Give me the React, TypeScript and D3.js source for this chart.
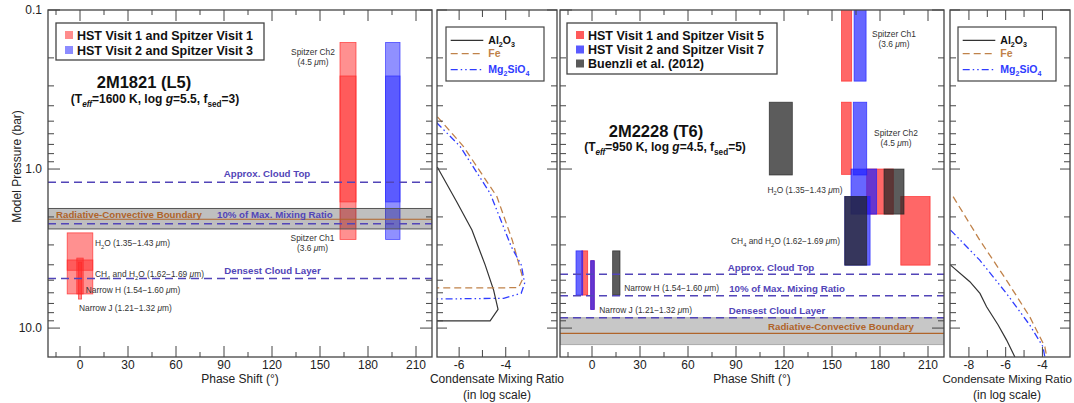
import React from 'react'
import * as d3 from 'd3'

// axis ticks
const phaseMajor = [0, 30, 60, 90, 120, 150, 180, 210]
const phaseMinor = [-15, 15, 45, 75, 105, 135, 165, 195]
const pressureMajor = [0.1, 1, 10]
const pressureLabels = ['0.1', '1.0', '10.0']
const pressureMinor = [0.2, 0.3, 0.4, 0.5, 0.6, 0.7, 0.8, 0.9, 2, 3, 4, 5, 6, 7, 8, 9]
const mixLTicks = [-6, -5, -4, -3]
const mixLLabels = [-6, -4]
const mixRTicks = [-8, -7, -6, -5, -4]
const mixRLabels = [-8, -6, -4]

// boxes: [phase from, phase to, pressure top, pressure bottom]
type Box = [number, number, number, number]
const l5Red: Box[] = [
  [162.5, 172.5, 0.16, 1.61], // Spitzer Ch2
  [162.5, 172.5, 0.26, 2.77], // Spitzer Ch1
  [-8, 8, 2.52, 4.33], // H2O
  [-8, 8, 3.73, 6.1], // CH4 + H2O
  [-2, 2, 3.63, 6.1], // narrow H
  [-1, 1, 3.85, 6.57], // narrow J
]
const l5Blue: Box[] = [
  [191, 200, 0.16, 1.61],
  [191, 200, 0.26, 2.77],
]
const t6Red: Box[] = [
  [156, 162.3, 0.05, 0.28],
  [156, 162, 0.38, 1.08],
  [171.7, 188.3, 1.0, 1.92],
  [193, 211.3, 1.49, 4.02],
  [-6.4, -2.7, 3.27, 6.2],
  [-0.8, 1.4, 3.77, 7.63],
]
const t6Blue: Box[] = [
  [163.8, 171.3, 0.05, 0.28],
  [163.3, 171.7, 0.38, 1.09],
  [161.9, 177.9, 1.0, 1.92],
  [158, 173.8, 1.49, 4.02],
  [-10, -5.8, 3.27, 6.2],
  [-0.8, 1.4, 3.77, 7.63],
]
const t6Buenzli: Box[] = [
  [110.8, 125.2, 0.38, 1.09],
  [182.5, 195, 1.0, 1.92],
  [158, 171.7, 1.49, 4.02],
  [12.9, 17.5, 3.27, 6.2],
]

// cloud levels (bar): approx cloud top, 10% of max mixing ratio, densest layer
const l5Dashed = [1.21, 2.21, 4.87]
const l5Rcb = 2.07
const l5Band = [1.77, 2.38]
const t6Dashed = [4.59, 6.26, 8.61]
const t6Rcb = 10.8
const t6Band = [8.61, 12.7]

// condensate profiles: [log mixing ratio, pressure]
type Pt = [number, number]
const l5Al2O3: Pt[] = [[-6.94, 0.97], [-6.1, 1.61], [-5.45, 2.42], [-4.88, 4.02], [-4.52, 5.77], [-4.33, 7.63], [-4.67, 9.0], [-7.3, 9.0]]
const l5Fe: Pt[] = [[-6.93, 0.47], [-5.82, 0.72], [-4.38, 1.49], [-3.72, 2.8], [-3.46, 3.85], [-3.26, 4.87], [-3.45, 5.56], [-4.0, 5.58], [-7.3, 5.58]]
const l5Mg: Pt[] = [[-6.97, 0.51], [-5.96, 0.72], [-4.67, 1.42], [-3.76, 3.08], [-3.33, 4.02], [-3.19, 5.23], [-3.34, 6.05], [-4.09, 6.5], [-7.3, 6.57]]
const t6Al2O3: Pt[] = [[-9.0, 4.02], [-7.95, 5.11], [-7.4, 6.05], [-7.04, 7.35], [-6.41, 9.57], [-5.95, 11.9], [-5.5, 15.2]]
const t6Fe: Pt[] = [[-8.86, 1.49], [-7.41, 2.8], [-5.96, 4.99], [-4.69, 8.49], [-3.87, 13.1], [-3.76, 15.2]]
const t6Mg: Pt[] = [[-9.0, 2.42], [-7.41, 3.74], [-5.96, 6.05], [-4.69, 9.57], [-3.97, 13.1], [-3.87, 15.2]]

const font = '"Liberation Sans", Arial, Helvetica, sans-serif'
const ink = '#444'
const purple = '#5245b8'
const brown = '#b0642a'
const feColor = '#c0824a'
const mgColor = '#2f3cff'

const yP = d3.scaleLog().domain([0.1, 15.2]).range([10, 357])
const Y0 = 10
const Y1 = 357

type Part = [string, string]
function Rich({ parts, size }: { parts: Part[]; size: number }) {
  let shift = 0
  return (
    <>
      {parts.map(([t, k], i) => {
        const isSub = k.includes('s')
        const target = isSub ? size * 0.3 : 0
        const dy = target - shift
        shift = target
        return (
          <tspan key={i} dy={dy !== 0 ? dy : undefined} fontSize={isSub ? size * 0.68 : undefined}
            fontStyle={k.includes('i') ? 'italic' : undefined}>{t}</tspan>
        )
      })}
    </>
  )
}

function Frame({ sx, xMajor, xMinor, yMajorLen, xMajorLen, xMinorLen }: any) {
  const [x0, x1] = sx.range()
  const lines: any[] = []
  xMajor.forEach((v: number) => {
    lines.push(<line key={'xb' + v} x1={sx(v)} x2={sx(v)} y1={Y1} y2={Y1 - xMajorLen} />)
    lines.push(<line key={'xt' + v} x1={sx(v)} x2={sx(v)} y1={Y0} y2={Y0 + xMajorLen} />)
  })
  xMinor.forEach((v: number) => {
    lines.push(<line key={'xmb' + v} x1={sx(v)} x2={sx(v)} y1={Y1} y2={Y1 - xMinorLen} />)
    lines.push(<line key={'xmt' + v} x1={sx(v)} x2={sx(v)} y1={Y0} y2={Y0 + xMinorLen} />)
  })
  pressureMajor.forEach((p) => {
    lines.push(<line key={'yl' + p} x1={x0} x2={x0 + yMajorLen} y1={yP(p)} y2={yP(p)} />)
    lines.push(<line key={'yr' + p} x1={x1} x2={x1 - yMajorLen} y1={yP(p)} y2={yP(p)} />)
  })
  pressureMinor.forEach((p) => {
    lines.push(<line key={'yml' + p} x1={x0} x2={x0 + 6} y1={yP(p)} y2={yP(p)} />)
    lines.push(<line key={'ymr' + p} x1={x1} x2={x1 - 6} y1={yP(p)} y2={yP(p)} />)
  })
  return (
    <g stroke={ink} strokeWidth={1}>
      {lines}
      <rect x={x0} y={Y0} width={x1 - x0} height={Y1 - Y0} fill="none" strokeWidth={1.3} />
    </g>
  )
}

function Boxes({ boxes, sx, fill, opacity }: { boxes: Box[]; sx: any; fill: string; opacity: number }) {
  return (
    <g>
      {boxes.map((b, i) => (
        <rect key={i} x={sx(b[0])} y={yP(b[2])} width={sx(b[1]) - sx(b[0])} height={yP(b[3]) - yP(b[2])}
          fill={fill} fillOpacity={opacity} stroke={fill} strokeOpacity={0.8} strokeWidth={0.8} />
      ))}
    </g>
  )
}

function Levels({ sx, dashed, rcb, band, bandOpacity, bandStroke }: any) {
  const [x0, x1] = sx.range()
  return (
    <g>
      <rect x={x0} y={yP(band[0])} width={x1 - x0} height={yP(band[1]) - yP(band[0])}
        fill="#000" fillOpacity={bandOpacity} stroke={bandStroke} strokeWidth={1} />
      <line x1={x0} x2={x1} y1={yP(rcb)} y2={yP(rcb)} stroke={brown} strokeWidth={1.1} />
      {dashed.map((p: number, i: number) => (
        <line key={i} x1={x0} x2={x1} y1={yP(p)} y2={yP(p)} stroke={purple} strokeWidth={1.5} strokeDasharray="8,5" />
      ))}
    </g>
  )
}

function Profiles({ sx, al, fe, mg }: any) {
  const line = d3.line<Pt>().x((d) => sx(d[0])).y((d) => yP(d[1]))
  return (
    <g fill="none">
      <path d={line(al) || ''} stroke="#333" strokeWidth={1.2} />
      <path d={line(fe) || ''} stroke={feColor} strokeWidth={1.3} strokeDasharray="7,4" />
      <path d={line(mg) || ''} stroke={mgColor} strokeWidth={1.3} strokeDasharray="7,3,1.5,3,1.5,3" />
    </g>
  )
}

function SideLegend({ x, y }: { x: number; y: number }) {
  const rows = [
    { stroke: '#333', dash: undefined, color: '#111', parts: [['Al', 'n'], ['2', 's'], ['O', 'n'], ['3', 's']] },
    { stroke: feColor, dash: '7,4', color: feColor, parts: [['Fe', 'n']] },
    { stroke: mgColor, dash: '7,3,1.5,3,1.5,3', color: mgColor, parts: [['Mg', 'n'], ['2', 's'], ['SiO', 'n'], ['4', 's']] },
  ]
  const ys = [13.3, 26.6, 42.6]
  return (
    <g>
      <rect x={x} y={y} width={98} height={54} fill="#fff" stroke={ink} strokeWidth={1.2} />
      {rows.map((r, i) => (
        <g key={i}>
          <line x1={x + 4.7} x2={x + 37.3} y1={y + ys[i]} y2={y + ys[i]} stroke={r.stroke} strokeWidth={1.3} strokeDasharray={r.dash} />
          <text x={x + 42.3} y={y + ys[i] + 3.6} fontSize={10.5} fontWeight="bold" fill={r.color}>
            <Rich parts={r.parts as Part[]} size={10.5} />
          </text>
        </g>
      ))}
    </g>
  )
}

function MainLegend({ x, y, w, h, rows }: any) {
  return (
    <g>
      <rect x={x} y={y} width={w} height={h} fill="#fff" stroke={ink} strokeWidth={1.3} />
      {rows.map((r: any, i: number) => (
        <g key={i}>
          <rect x={x + 9} y={r.cy - 4} width={8} height={8} fill={r.color} />
          <text x={x + 21} y={r.cy + 4.5} fontSize={12.5} fontWeight="bold" fill="#111">{r.label}</text>
        </g>
      ))}
    </g>
  )
}

const mu = (text: string, tail: string) => (
  <>
    {text}<tspan fontStyle="italic">μ</tspan>{tail}
  </>
)

export default function App() {
  const xL = d3.scaleLinear().domain([-20, 220]).range([48, 432])
  const xR = d3.scaleLinear().domain([-20, 220]).range([560, 944])
  const cL = d3.scaleLinear().domain([-6.95, -1.8]).range([437, 557])
  const cR = d3.scaleLinear().domain([-9.03, -2.5]).range([950, 1070])

  const clip = (id: string, sx: any) => (
    <clipPath id={id}>
      <rect x={sx.range()[0]} y={Y0} width={sx.range()[1] - sx.range()[0]} height={Y1 - Y0} />
    </clipPath>
  )

  const small = { fontSize: 8.4, fill: '#333' }
  const lvl = { fontSize: 9.7, fontWeight: 'bold' as const }

  return (
    <svg width={1074} height={403} style={{ position: 'absolute', left: 0, top: 0, fontFamily: font, background: '#fff' }}>
      <defs>
        {clip('cl-main-l', xL)}
        {clip('cl-main-r', xR)}
        {clip('cl-side-l', cL)}
        {clip('cl-side-r', cR)}
      </defs>
      <rect width={1074} height={403} fill="#fff" />

      {/* ---------- 2M1821 main panel ---------- */}
      <g clipPath="url(#cl-main-l)">
        <Boxes boxes={l5Red} sx={xL} fill="#ff2a2a" opacity={0.52} />
        <Boxes boxes={l5Blue} sx={xL} fill="#2a2aff" opacity={0.52} />
        <Levels sx={xL} dashed={l5Dashed} rcb={l5Rcb} band={l5Band} bandOpacity={0.25} bandStroke="#555" />
      </g>
      <Frame sx={xL} xMajor={phaseMajor} xMinor={phaseMinor} yMajorLen={12} xMajorLen={11} xMinorLen={5} />
      <MainLegend x={56} y={23} w={208} h={37} rows={[
        { cy: 35, color: '#ff8c8c', label: 'HST Visit 1 and Spitzer Visit 1' },
        { cy: 50, color: '#8c8cff', label: 'HST Visit 2 and Spitzer Visit 3' },
      ]} />
      <text x={144} y={88} textAnchor="middle" fontSize={16.5} fontWeight="bold" fill="#111">2M1821 (L5)</text>
      <text x={155} y={103} textAnchor="middle" fontSize={12} fontWeight="bold" fill="#111">
        <Rich size={12} parts={[['(T', 'n'], ['eff', 'si'], ['=1600 K, log ', 'n'], ['g', 'i'], ['=5.5, f', 'n'], ['sed', 's'], ['=3)', 'n']]} />
      </text>
      <text x={313} y={55} textAnchor="middle" {...small}>Spitzer Ch2</text>
      <text x={313} y={65} textAnchor="middle" {...small}>{mu('(4.5 ', 'm)')}</text>
      <text x={312.5} y={241} textAnchor="middle" {...small}>Spitzer Ch1</text>
      <text x={312.5} y={250.5} textAnchor="middle" {...small}>{mu('(3.6 ', 'm)')}</text>
      <text x={95} y={246} {...small}><Rich size={8.4} parts={[['H', 'n'], ['2', 's'], ['O (1.35−1.43 ', 'n'], ['μ', 'i'], ['m)', 'n']]} /></text>
      <text x={95} y={277} {...small}><Rich size={8.4} parts={[['CH', 'n'], ['4', 's'], [' and H', 'n'], ['2', 's'], ['O (1.62−1.69 ', 'n'], ['μ', 'i'], ['m)', 'n']]} /></text>
      <text x={85.7} y={292.5} {...small}>{mu('Narrow H (1.54−1.60 ', 'm)')}</text>
      <text x={79} y={310.5} {...small}>{mu('Narrow J (1.21−1.32 ', 'm)')}</text>
      <text x={267} y={176.5} textAnchor="middle" fill={purple} {...lvl}>Approx. Cloud Top</text>
      <text x={56} y={217.5} fill={brown} {...lvl}>Radiative-Convective Boundary</text>
      <text x={217} y={217.5} fill={purple} {...lvl}>10% of Max. Mixing Ratio</text>
      <text x={272.5} y={274} textAnchor="middle" fill={purple} {...lvl}>Densest Cloud Layer</text>

      {/* ---------- 2M1821 condensate panel ---------- */}
      <g clipPath="url(#cl-side-l)">
        <Profiles sx={cL} al={l5Al2O3} fe={l5Fe} mg={l5Mg} />
      </g>
      <Frame sx={cL} xMajor={mixLLabels} xMinor={mixLTicks.filter((t) => !mixLLabels.includes(t))} yMajorLen={10} xMajorLen={10} xMinorLen={7} />
      <SideLegend x={446} y={27} />

      {/* ---------- 2M2228 main panel ---------- */}
      <g clipPath="url(#cl-main-r)">
        <Levels sx={xR} dashed={[]} rcb={t6Rcb} band={t6Band} bandOpacity={0.22} bandStroke="#aaa" />
        <Boxes boxes={t6Red} sx={xR} fill="#ff1f1f" opacity={0.68} />
        <Boxes boxes={t6Blue} sx={xR} fill="#1f1fff" opacity={0.68} />
        <Boxes boxes={t6Buenzli} sx={xR} fill="#262626" opacity={0.75} />
        {t6Dashed.map((p, i) => (
          <line key={i} x1={560} x2={944} y1={yP(p)} y2={yP(p)} stroke={purple} strokeWidth={1.5} strokeDasharray="8,5" />
        ))}
      </g>
      <Frame sx={xR} xMajor={phaseMajor} xMinor={phaseMinor} yMajorLen={12} xMajorLen={11} xMinorLen={5} />
      <MainLegend x={567} y={23} w={210} h={51} rows={[
        { cy: 35, color: '#ff5a5a', label: 'HST Visit 1 and Spitzer Visit 5' },
        { cy: 49.5, color: '#5a5aff', label: 'HST Visit 2 and Spitzer Visit 7' },
        { cy: 63.5, color: '#5a5a5a', label: 'Buenzli et al. (2012)' },
      ]} />
      <text x={656} y={136.5} textAnchor="middle" fontSize={16.5} fontWeight="bold" fill="#111">2M2228 (T6)</text>
      <text x={665} y={151} textAnchor="middle" fontSize={12} fontWeight="bold" fill="#111">
        <Rich size={12} parts={[['(T', 'n'], ['eff', 'si'], ['=950 K, log ', 'n'], ['g', 'i'], ['=4.5, f', 'n'], ['sed', 's'], ['=5)', 'n']]} />
      </text>
      <text x={894} y={36.5} textAnchor="middle" {...small}>Spitzer Ch1</text>
      <text x={894} y={46.5} textAnchor="middle" {...small}>{mu('(3.6 ', 'm)')}</text>
      <text x={896} y={135.5} textAnchor="middle" {...small}>Spitzer Ch2</text>
      <text x={896} y={145.5} textAnchor="middle" {...small}>{mu('(4.5 ', 'm)')}</text>
      <text x={805} y={192.5} textAnchor="middle" {...small}><Rich size={8.4} parts={[['H', 'n'], ['2', 's'], ['O (1.35−1.43 ', 'n'], ['μ', 'i'], ['m)', 'n']]} /></text>
      <text x={840} y={244} textAnchor="end" {...small}><Rich size={8.4} parts={[['CH', 'n'], ['4', 's'], [' and H', 'n'], ['2', 's'], ['O (1.62−1.69 ', 'n'], ['μ', 'i'], ['m)', 'n']]} /></text>
      <text x={624.3} y={290.5} {...small}>{mu('Narrow H (1.54−1.60 ', 'm)')}</text>
      <text x={599.3} y={312.5} {...small}>{mu('Narrow J (1.21−1.32 ', 'm)')}</text>
      <text x={771} y={270.5} textAnchor="middle" fill={purple} {...lvl}>Approx. Cloud Top</text>
      <text x={787} y={291.5} textAnchor="middle" fill={purple} {...lvl}>10% of Max. Mixing Ratio</text>
      <text x={777} y={313.5} textAnchor="middle" fill={purple} {...lvl}>Densest Cloud Layer</text>
      <text x={841} y={329.5} textAnchor="middle" fill={brown} {...lvl}>Radiative-Convective Boundary</text>

      {/* ---------- 2M2228 condensate panel ---------- */}
      <g clipPath="url(#cl-side-r)">
        <Profiles sx={cR} al={t6Al2O3} fe={t6Fe} mg={t6Mg} />
      </g>
      <Frame sx={cR} xMajor={mixRLabels} xMinor={mixRTicks.filter((t) => !mixRLabels.includes(t))} yMajorLen={10} xMajorLen={10} xMinorLen={7} />
      <SideLegend x={958} y={27} />

      {/* ---------- axis labels ---------- */}
      <g fontSize={12} fill="#222">
        {pressureMajor.map((p, i) => (
          <text key={p} x={42} y={yP(p) + 4} textAnchor="end">{pressureLabels[i]}</text>
        ))}
        {phaseMajor.map((v) => (
          <text key={'l' + v} x={xL(v)} y={369} textAnchor="middle">{v}</text>
        ))}
        {phaseMajor.map((v) => (
          <text key={'r' + v} x={xR(v)} y={369} textAnchor="middle">{v}</text>
        ))}
        {mixLLabels.map((v) => (
          <text key={'ml' + v} x={cL(v)} y={369} textAnchor="middle">{v}</text>
        ))}
        {mixRLabels.map((v) => (
          <text key={'mr' + v} x={cR(v)} y={369} textAnchor="middle">{v}</text>
        ))}
        <text x={xL(100)} y={383} textAnchor="middle">Phase Shift (°)</text>
        <text x={xR(100)} y={383} textAnchor="middle">Phase Shift (°)</text>
        <text x={497} y={383} textAnchor="middle">Condensate Mixing Ratio</text>
        <text x={497} y={399} textAnchor="middle">(in log scale)</text>
        <text x={1072} y={383} textAnchor="end" fontSize={11.6}>Condensate Mixing Ratio</text>
        <text x={1007} y={399} textAnchor="middle">(in log scale)</text>
        <text transform="translate(21,166.5) rotate(-90)" textAnchor="middle">Model Pressure (bar)</text>
      </g>
    </svg>
  )
}
